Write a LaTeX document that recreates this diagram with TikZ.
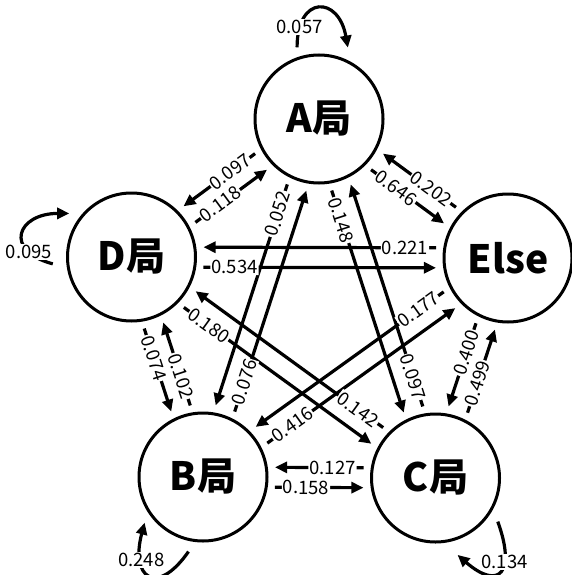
\documentclass[tikz,border=0pt]{standalone}
\usepackage{fontspec}
\setmainfont{Noto Sans CJK JP}
\usetikzlibrary{arrows.meta,calc}
\pgfdeclarelayer{links}
\pgfsetlayers{links,main}

\tikzset{
  state/.style={circle, draw, line width=3pt, minimum size=128pt, inner sep=0pt,
    font=\bfseries\fontsize{39}{39}\selectfont},
  link/.style={line width=3.2pt, -{Triangle[length=12pt,width=11pt]}},
  wt/.style={fill=white, inner sep=1pt, font=\fontsize{18.5}{18.5}\selectfont},
}

% one transition: straight arrow shifted to the right of its direction,
% weight written near the source
\newcommand\flow[3]{%
  \path ($(#1)!10pt!-90:(#2)$) coordinate (p-#1-#2)
        ($(#2)!10pt!90:(#1)$) coordinate (q-#1-#2);
  \begin{pgfonlayer}{links}
    \draw[link] ($(p-#1-#2)!72pt!(q-#1-#2)$) -- ($(q-#1-#2)!72pt!(p-#1-#2)$);
  \end{pgfonlayer}
  \path let \p1=($(q-#1-#2)-(p-#1-#2)$), \n1={103/veclen(\x1,\y1)} in
    (p-#1-#2) -- node[wt, sloped, pos=\n1] (w-#1-#2) {#3} (q-#1-#2);
}

\begin{document}
\begin{tikzpicture}[x=1pt,y=1pt]
\useasboundingbox (0,0) rectangle (571,-575);

\node[state] (A) at (319,-119) {A局};
\node[state] (D) at (131.5,-257) {D局};
\node[state] (E) at (508,-258) {Else};
\node[state] (B) at (203,-477) {B局};
\node[state] (C) at (435.5,-478) {C局};

% self transitions
\draw[link] ($(A)+(107:75)$) to[out=90,in=100,looseness=2.65]
  node[wt,pos=0.15] (w-A-A) {0.057} ($(A)+(68:77)$);
\draw[link] ($(D)+(185:79)$) to[out=165,in=180,looseness=2.5]
  node[wt,pos=0.22] (w-D-D) {0.095} ($(D)+(145:76)$);
\draw[link] ($(B)+(259:76)$) to[out=235,in=255,looseness=2.75]
  node[wt,pos=0.72] (w-B-B) {0.248} ($(B)+(218:74)$);
\draw[link] ($(C)+(325:76)$) to[out=290,in=319,looseness=2.67]
  node[wt,pos=0.35] (w-C-C) {0.134} ($(C)+(286:80)$);

% transitions between states
\flow{A}{D}{0.097}
\flow{D}{A}{0.118}
\flow{E}{A}{0.202}
\flow{A}{E}{0.646}
\flow{A}{B}{0.052}
\flow{B}{A}{0.076}
\flow{A}{C}{0.148}
\flow{C}{A}{0.097}
\flow{E}{D}{0.221}
\flow{D}{E}{0.534}
\flow{D}{C}{0.180}
\flow{C}{D}{0.142}
\flow{D}{B}{0.074}
\flow{B}{D}{0.102}
\flow{E}{B}{0.177}
\flow{B}{E}{0.416}
\flow{E}{C}{0.400}
\flow{C}{E}{0.499}
\flow{C}{B}{0.127}
\flow{B}{C}{0.158}
\end{tikzpicture}
\end{document}
